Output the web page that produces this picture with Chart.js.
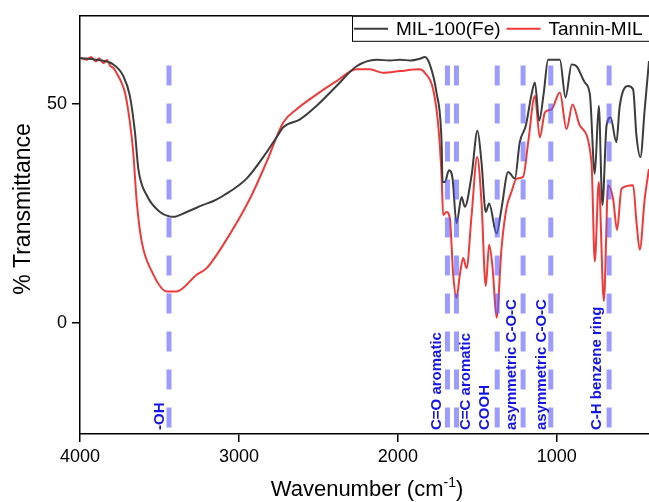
<!DOCTYPE html>
<html>
<head>
<meta charset="utf-8">
<script src="https://cdn.jsdelivr.net/npm/chart.js@4.4.0/dist/chart.umd.min.js"></script>
<style>
  html, body { margin: 0; padding: 0; background: #fff; }
  #contenedor { width: 649px; height: 502px; }
</style>
</head>
<body>
<div id="contenedor"><canvas id="graficaFTIR" width="649" height="502"></canvas></div>
<script>
const milNumOnda = [4000, 3900, 3790, 3728, 3686, 3654, 3633, 3580, 3497, 3440,
  3413, 3329, 3225, 3160, 3099, 2952, 2826, 2760, 2721, 2616,
  2511, 2386, 2260, 2134, 2050, 1987, 1920, 1862, 1830, 1799,
  1757, 1725, 1719, 1704, 1679, 1656, 1631, 1599, 1579, 1536,
  1499, 1474, 1447, 1426, 1379, 1348, 1306, 1264, 1233, 1195,
  1159, 1138, 1111, 1082, 1055, 981, 945, 907, 876, 824,
  792, 761, 736, 713, 687, 662, 625, 604, 551, 520,
  499, 474, 447, 420];
const milTransm = [60.4, 60.0, 58.9, 56.3, 51.7, 43.4, 35.1, 29.1, 25.3, 24.3,
  24.2, 25.3, 26.9, 27.8, 29.0, 32.9, 38.9, 42.5, 44.6, 46.4,
  49.5, 54.0, 58.5, 60.0, 59.8, 60.0, 59.8, 60.2, 60.6, 58.9,
  52.5, 41.2, 32.1, 32.1, 34.8, 32.9, 22.7, 28.7, 26.5, 33.7,
  43.8, 36.7, 25.3, 27.2, 20.4, 26.1, 34.4, 32.9, 41.2, 45.0,
  52.1, 54.8, 46.1, 52.5, 60.0, 60.0, 51.4, 58.9, 58.5, 54.8,
  52.1, 34.0, 49.5, 26.9, 45.0, 46.8, 41.2, 49.5, 54.0, 53.2,
  42.7, 37.8, 48.7, 59.7];

const taninoNumOnda = [4000, 3960, 3930, 3900, 3880, 3853, 3830, 3810, 3790, 3770,
  3748, 3717, 3686, 3665, 3643, 3612, 3549, 3455, 3392, 3266,
  3203, 3099, 2931, 2826, 2721, 2637, 2511, 2386, 2260, 2176,
  2092, 1987, 1862, 1830, 1778, 1746, 1725, 1715, 1694, 1673,
  1652, 1631, 1610, 1589, 1568, 1536, 1501, 1474, 1447, 1426,
  1404, 1379, 1348, 1317, 1285, 1253, 1212, 1180, 1138, 1107,
  1075, 1033, 981, 939, 901, 855, 782, 761, 736, 704,
  677, 646, 621, 593, 520, 499, 478, 447, 420];
const taninoTransm = [60.4, 60.0, 60.6, 59.6, 60.3, 59.2, 59.9, 58.6, 58.1, 57.0,
  55.5, 52.5, 45.7, 38.9, 27.6, 18.6, 11.8, 7.2, 7.2, 11.0,
  12.5, 17.8, 28.3, 36.7, 45.7, 48.7, 52.1, 55.1, 57.8, 57.8,
  57.0, 57.4, 57.8, 57.0, 53.2, 45.0, 33.6, 24.6, 25.3, 23.8,
  11.0, 5.7, 11.0, 14.8, 12.5, 24.6, 37.8, 27.6, 8.4, 17.8,
  12.5, 1.2, 17.0, 26.1, 29.9, 32.9, 33.3, 41.2, 51.7, 42.3,
  48.0, 48.7, 52.5, 44.2, 49.8, 45.0, 36.7, 14.0, 32.1, 5.0,
  31.4, 28.3, 21.2, 30.6, 31.4, 23.1, 16.7, 28.3, 35.1];

// Bandas marcadas
const picosNumOnda = [3440, 1688, 1631, 1375, 1212, 1038, 671];
const picosTexto = ['-OH', 'C=O aromatic', 'C=C aromatic', 'COOH',
  'asymmetric C-O-C', 'asymmetric C-O-C', 'C-H benzene ring'];

const ticksX = [4000, 3000, 2000, 1000];
const ticksY = [0, 50];

const Y_MIN = -25.3, Y_MAX = 70;

// desplazamiento en px de cada etiqueta respecto a su línea
const desplazamiento = [-9, -11, 9, -12, -11, -9, -12];

const lineasPicos = picosNumOnda.map(wn => ({
  data: [{ x: wn, y: 58.7 }, { x: wn, y: Y_MIN }],
  borderColor: 'rgba(90,90,255,0.6)',
  borderWidth: 5,
  borderDash: [20, 18],
  borderCapStyle: 'butt',
  pointRadius: 0,
  esPico: true
}));

const decoracion = {
  id: 'decoracion',
  afterDatasetsDraw(chart) {
    const { ctx, chartArea: a, scales: { x } } = chart;
    ctx.save();
    // marco superior
    ctx.strokeStyle = '#000';
    ctx.lineWidth = 1.5;
    ctx.beginPath();
    ctx.moveTo(a.left, a.top);
    ctx.lineTo(a.right, a.top);
    ctx.stroke();

    // etiquetas de las bandas
    ctx.fillStyle = '#1414e6';
    ctx.font = 'bold 15px Arial';
    ctx.textAlign = 'left';
    ctx.textBaseline = 'middle';
    picosNumOnda.forEach((wn, i) => {
      const px = x.getPixelForValue(wn) + desplazamiento[i];
      ctx.save();
      ctx.translate(px, a.bottom - 4);
      ctx.rotate(-Math.PI / 2);
      ctx.fillText(picosTexto[i], 0, 0);
      ctx.restore();
    });

    // leyenda
    const izq = a.right - 297;
    ctx.fillStyle = '#fff';
    ctx.fillRect(izq, a.top, 320, 25);
    ctx.strokeStyle = '#000';
    ctx.lineWidth = 1;
    ctx.strokeRect(izq + 0.5, a.top + 0.5, 320, 25);
    ctx.font = '19px Arial';
    ctx.fillStyle = '#000';
    const series = chart.data.datasets.filter(d => !d.esPico);
    let cx = izq + 2;
    series.forEach(d => {
      ctx.strokeStyle = d.borderColor;
      ctx.lineWidth = 2;
      ctx.beginPath();
      ctx.moveTo(cx, a.top + 13);
      ctx.lineTo(cx + 34, a.top + 13);
      ctx.stroke();
      ctx.fillText(d.label, cx + 42, a.top + 14);
      cx += 42 + ctx.measureText(d.label).width + 6;
    });
    ctx.restore();
  },
  afterDraw(chart) {
    const { ctx, chartArea: a } = chart;
    ctx.save();
    ctx.fillStyle = '#000';
    // título eje Y
    ctx.font = '23px Arial';
    ctx.textAlign = 'center';
    ctx.textBaseline = 'middle';
    ctx.translate(24, 209);
    ctx.rotate(-Math.PI / 2);
    ctx.fillText('% Transmittance', 0, 0);
    ctx.restore();

    // título eje X con superíndice
    ctx.save();
    ctx.fillStyle = '#000';
    ctx.textBaseline = 'alphabetic';
    ctx.textAlign = 'left';
    const p1 = 'Wavenumber (cm', p2 = '-1', p3 = ')';
    ctx.font = '22px Arial';
    const w1 = ctx.measureText(p1).width, w3 = ctx.measureText(p3).width;
    ctx.font = '14px Arial';
    const w2 = ctx.measureText(p2).width;
    let xx = 367 - (w1 + w2 + w3) / 2;
    const base = 496;
    ctx.font = '22px Arial';
    ctx.fillText(p1, xx, base);
    xx += w1;
    ctx.font = '14px Arial';
    ctx.fillText(p2, xx, base - 9);
    xx += w2;
    ctx.font = '22px Arial';
    ctx.fillText(p3, xx, base);
    ctx.restore();
  }
};

const ctx = document.getElementById('graficaFTIR').getContext('2d');
new Chart(ctx, {
  type: 'line',
  data: {
    datasets: [
      ...lineasPicos,
      {
        label: 'MIL-100(Fe)',
        data: milNumOnda.map((wn, i) => ({ x: wn, y: milTransm[i] })),
        borderColor: '#3c3c3c',
        borderWidth: 2,
        pointRadius: 0,
        cubicInterpolationMode: 'monotone'
      },
      {
        label: 'Tannin-MIL',
        data: taninoNumOnda.map((wn, i) => ({ x: wn, y: taninoTransm[i] })),
        borderColor: '#f03a3a',
        borderWidth: 2,
        pointRadius: 0,
        cubicInterpolationMode: 'monotone'
      }
    ]
  },
  options: {
    responsive: false,
    animation: false,
    devicePixelRatio: 1,
    layout: { padding: { top: 13, left: 0, right: 0, bottom: 0 } },
    plugins: {
      legend: { display: false },
      tooltip: { enabled: false }
    },
    scales: {
      x: {
        type: 'linear',
        reverse: true,
        min: 420,
        max: 4000,
        afterBuildTicks: ax => { ax.ticks = ticksX.map(v => ({ value: v })); },
        afterFit: s => { s.height = 68; },
        grid: { drawOnChartArea: false, tickLength: 8, color: '#000', lineWidth: 1.5 },
        border: { color: '#000', width: 1.5 },
        ticks: { color: '#000', font: { family: 'Arial', size: 18 }, padding: 4, maxRotation: 0,
                 callback: v => String(v) }
      },
      y: {
        min: Y_MIN,
        max: Y_MAX,
        afterBuildTicks: ax => { ax.ticks = ticksY.map(v => ({ value: v })); },
        afterFit: s => { s.width = 80; },
        grid: { drawOnChartArea: false, tickLength: 8, color: '#000', lineWidth: 1.5 },
        border: { color: '#000', width: 1.5 },
        ticks: { color: '#000', font: { family: 'Arial', size: 18 }, padding: 5,
                 callback: v => String(v) }
      }
    }
  },
  plugins: [decoracion]
});
</script>
</body>
</html>
